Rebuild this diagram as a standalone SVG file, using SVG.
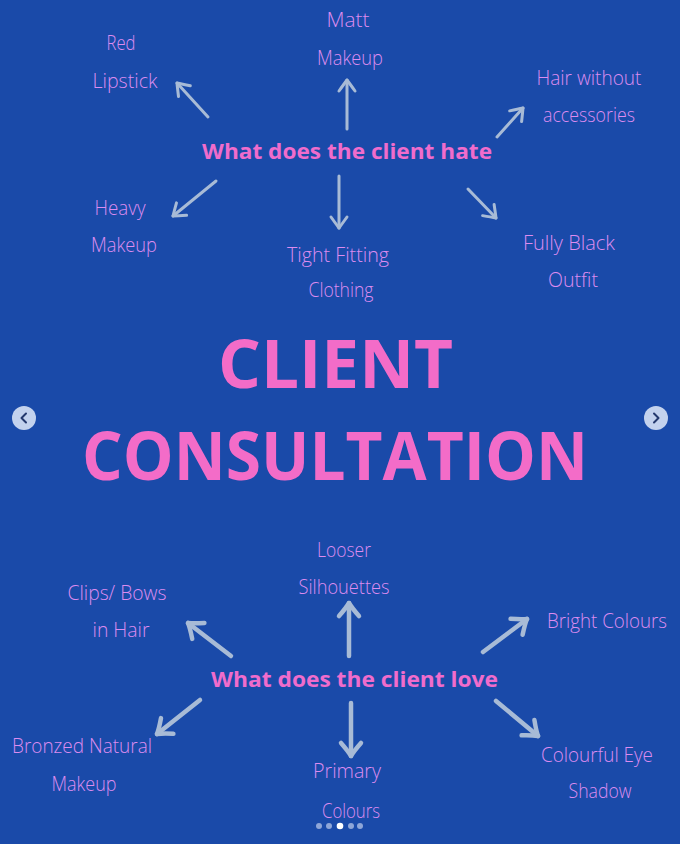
<svg xmlns="http://www.w3.org/2000/svg" width="680" height="844" viewBox="0 0 680 844">
<defs>
<style>
.bg{fill:#1a4aa9}
.title{font-family:"Open Sans","Liberation Sans",sans-serif;font-weight:700;font-size:66px;fill:#f36cc8;text-anchor:middle}
.head{font-family:"Open Sans","Liberation Sans",sans-serif;font-weight:700;font-size:22px;fill:#f06ccc;text-anchor:middle}
.lbl{font-family:"Open Sans","Liberation Sans",sans-serif;font-weight:300;font-size:21px;fill:#dc8cf0;text-anchor:middle}
.arr{fill:none;stroke:#a8bbd6;stroke-linecap:round;stroke-linejoin:round}
.thin{stroke-width:3}
.thick{stroke-width:4.5}
.nav{fill:#c3d2ee}
.chev{fill:none;stroke:#24396e;stroke-width:2;stroke-linecap:round;stroke-linejoin:round}
</style>
<marker id="hs" markerUnits="userSpaceOnUse" orient="auto" refX="0" refY="0" markerWidth="30" markerHeight="30" style="overflow:visible">
<path d="M-11,-8 Q-4,-3 0,0 Q-4,3 -11,8" fill="none" stroke="#a8bbd6" stroke-width="3" stroke-linecap="round" stroke-linejoin="round"/>
</marker>
<marker id="hl" markerUnits="userSpaceOnUse" orient="auto" refX="0" refY="0" markerWidth="30" markerHeight="30" style="overflow:visible">
<path d="M-13,-10 Q-5,-3 0,0 Q-5,3 -13,10" fill="none" stroke="#a8bbd6" stroke-width="4.5" stroke-linecap="round" stroke-linejoin="round"/>
</marker>
</defs>
<rect class="bg" x="0" y="0" width="680" height="844"/>

<g id="title">
<text class="title" x="335.5" y="388" textLength="235" lengthAdjust="spacingAndGlyphs">CLIENT</text>
<text class="title" x="335" y="480" textLength="506" lengthAdjust="spacingAndGlyphs">CONSULTATION</text>
</g>

<g id="connectors">
<path class="arr thin" d="M208,117 L177,83" marker-end="url(#hs)"/>
<path class="arr thin" d="M347,129 L347,80" marker-end="url(#hs)"/>
<path class="arr thin" d="M497,137 L523,108" marker-end="url(#hs)"/>
<path class="arr thin" d="M216,181 L173,216" marker-end="url(#hs)"/>
<path class="arr thin" d="M339,176 L339,228" marker-end="url(#hs)"/>
<path class="arr thin" d="M468,189 L496,218" marker-end="url(#hs)"/>
<path class="arr thick" d="M349,656 L349,603" marker-end="url(#hl)"/>
<path class="arr thick" d="M231,656 L188,623" marker-end="url(#hl)"/>
<path class="arr thick" d="M483,652 L527,619" marker-end="url(#hl)"/>
<path class="arr thick" d="M200,700 L157,734" marker-end="url(#hl)"/>
<path class="arr thick" d="M351,703 L351,756" marker-end="url(#hl)"/>
<path class="arr thick" d="M496,701 L538,736" marker-end="url(#hl)"/>
</g>

<g id="hate">
<text class="head" x="347" y="159" textLength="290" lengthAdjust="spacingAndGlyphs">What does the client hate</text>
</g>
<g id="matt-makeup">
<text class="lbl" x="348" y="27" textLength="43" lengthAdjust="spacingAndGlyphs">Matt</text>
<text class="lbl" x="350" y="65" textLength="66" lengthAdjust="spacingAndGlyphs">Makeup</text>
</g>
<g id="red-lipstick">
<text class="lbl" x="121" y="50" textLength="29" lengthAdjust="spacingAndGlyphs">Red</text>
<text class="lbl" x="125" y="88" textLength="65" lengthAdjust="spacingAndGlyphs">Lipstick</text>
</g>
<g id="hair-without">
<text class="lbl" x="589" y="85" textLength="105" lengthAdjust="spacingAndGlyphs">Hair without</text>
<text class="lbl" x="589" y="122" textLength="92" lengthAdjust="spacingAndGlyphs">accessories</text>
</g>
<g id="heavy-makeup">
<text class="lbl" x="120" y="215" textLength="51" lengthAdjust="spacingAndGlyphs">Heavy</text>
<text class="lbl" x="124" y="252" textLength="66" lengthAdjust="spacingAndGlyphs">Makeup</text>
</g>
<g id="tight-fitting">
<text class="lbl" x="338" y="262" textLength="102" lengthAdjust="spacingAndGlyphs">Tight Fitting</text>
<text class="lbl" x="341" y="297" textLength="65" lengthAdjust="spacingAndGlyphs">Clothing</text>
</g>
<g id="fully-black">
<text class="lbl" x="569" y="250" textLength="92" lengthAdjust="spacingAndGlyphs">Fully Black</text>
<text class="lbl" x="573" y="287" textLength="50" lengthAdjust="spacingAndGlyphs">Outfit</text>
</g>

<g id="love">
<text class="head" x="354.5" y="687" textLength="287" lengthAdjust="spacingAndGlyphs">What does the client love</text>
</g>
<g id="looser">
<text class="lbl" x="344" y="557" textLength="54" lengthAdjust="spacingAndGlyphs">Looser</text>
<text class="lbl" x="344" y="594" textLength="91" lengthAdjust="spacingAndGlyphs">Silhouettes</text>
</g>
<g id="clips-bows">
<text class="lbl" x="117" y="600" textLength="99" lengthAdjust="spacingAndGlyphs">Clips/ Bows</text>
<text class="lbl" x="121" y="637" textLength="57" lengthAdjust="spacingAndGlyphs">in Hair</text>
</g>
<g id="bright-colours">
<text class="lbl" x="607" y="628" textLength="120" lengthAdjust="spacingAndGlyphs">Bright Colours</text>
</g>
<g id="bronzed">
<text class="lbl" x="82" y="753" textLength="140" lengthAdjust="spacingAndGlyphs">Bronzed Natural</text>
<text class="lbl" x="84" y="791" textLength="65" lengthAdjust="spacingAndGlyphs">Makeup</text>
</g>
<g id="primary-colours">
<text class="lbl" x="347" y="778" textLength="68" lengthAdjust="spacingAndGlyphs">Primary</text>
<text class="lbl" x="351" y="818" textLength="58" lengthAdjust="spacingAndGlyphs">Colours</text>
</g>
<g id="colourful-eye">
<text class="lbl" x="597" y="762" textLength="112" lengthAdjust="spacingAndGlyphs">Colourful Eye</text>
<text class="lbl" x="600" y="798" textLength="63" lengthAdjust="spacingAndGlyphs">Shadow</text>
</g>

<g id="nav-left">
<circle class="nav" cx="24" cy="418" r="12"/>
<path class="chev" d="M26,413.5 L21.5,418 L26,422.5"/>
</g>
<g id="nav-right">
<circle class="nav" cx="656" cy="418" r="12"/>
<path class="chev" d="M654,413.5 L658.5,418 L654,422.5"/>
</g>
<g id="dots">
<circle cx="319" cy="826" r="3" fill="#8ea6d8"/>
<circle cx="329" cy="826" r="3" fill="#8ea6d8"/>
<circle cx="340" cy="826" r="3.3" fill="#ffffff"/>
<circle cx="351" cy="826" r="3" fill="#8ea6d8"/>
<circle cx="360" cy="826" r="3" fill="#8ea6d8"/>
</g>
</svg>
